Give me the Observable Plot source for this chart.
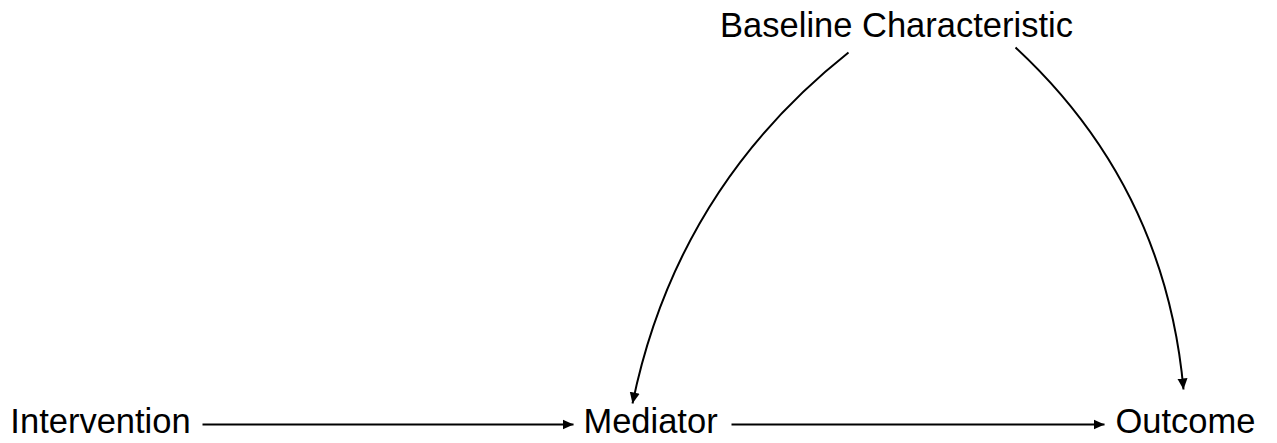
<!DOCTYPE html>
<html><head><meta charset="utf-8">
<script src="https://cdn.jsdelivr.net/npm/d3@7"></script>
<script src="https://cdn.jsdelivr.net/npm/@observablehq/plot@0.6"></script>
<style>html,body{margin:0;padding:0;background:#fff;overflow:hidden}</style>
</head><body><div id="chart"></div>
<script>
// Nodes of the causal diagram (layout units)
const nodeNames = ["Intervention", "Mediator", "Outcome", "Baseline Characteristic"];
const nodeX = [100, 650, 1185, 896];
const nodeY = [421, 421, 421, 25];

// Edges: anchor points of each arrow and its bend (degrees, + = clockwise)
const edgeFrom = ["Intervention", "Mediator", "Baseline Characteristic", "Baseline Characteristic"];
const edgeTo = ["Mediator", "Outcome", "Mediator", "Outcome"];
const edgeX1 = [202, 731, 848, 1015];
const edgeY1 = [424, 424, 52, 47];
const edgeX2 = [573, 1104, 632, 1183];
const edgeY2 = [424, 424, 403, 389];
const edgeBend = [0, 0, 20, -21];

const nodes = nodeNames.map((name, i) => ({name, x: nodeX[i], y: nodeY[i]}));
const edges = edgeFrom.map((from, i) => ({
  from, to: edgeTo[i], x1: edgeX1[i], y1: edgeY1[i], x2: edgeX2[i], y2: edgeY2[i], bend: edgeBend[i]
}));

function bendCurve(angle) {
  const t = Math.tan(angle * Math.PI / 180);
  return (context) => {
    let pts = [];
    return {
      areaStart() {}, areaEnd() {},
      lineStart() { pts = []; },
      point(x, y) { pts.push([+x, +y]); },
      lineEnd() {
        const [[x0, y0], [x1, y1]] = pts;
        const dx = x1 - x0, dy = y1 - y0;
        const mx = (x0 + x1) / 2, my = (y0 + y1) / 2;
        const k = t / 2;
        const cx = mx - dy * k, cy = my + dx * k;
        context.moveTo(x0, y0);
        if (angle === 0) context.lineTo(x1, y1);
        else context.quadraticCurveTo(cx, cy, x1, y1);
      }
    };
  };
}

function filledArrow(color, context) {
  const ns = "http://www.w3.org/2000/svg";
  const doc = (context && context.document) || document;
  const m = doc.createElementNS(ns, "marker");
  m.setAttribute("viewBox", "-11 -6 11 12");
  m.setAttribute("markerWidth", 11);
  m.setAttribute("markerHeight", 12);
  m.setAttribute("refX", 0);
  m.setAttribute("refY", 0);
  m.setAttribute("markerUnits", "userSpaceOnUse");
  m.setAttribute("orient", "auto");
  const p = doc.createElementNS(ns, "path");
  p.setAttribute("d", "M-11,-5L0,0L-11,5Z");
  p.setAttribute("fill", color);
  p.setAttribute("stroke", "none");
  m.appendChild(p);
  return m;
}

const bends = Array.from(new Set(edgeBend));
const linkMarks = bends.map((b) => Plot.link(edges.filter((d) => d.bend === b), {
  x1: "x1", y1: "y1", x2: "x2", y2: "y2",
  stroke: "black", strokeWidth: 2,
  curve: bendCurve(b),
  markerEnd: filledArrow
}));

const chart = Plot.plot({
  width: 1277,
  height: 443,
  margin: 0,
  style: {fontFamily: "'Liberation Sans', Arial, Helvetica, sans-serif", background: "#fff"},
  x: {domain: [0, 1277], range: [0, 1277], axis: null},
  y: {domain: [0, 443], range: [0, 443], axis: null},
  marks: [
    ...linkMarks,
    Plot.text(nodes, {
      x: "x", y: "y", text: "name",
      fontSize: 34.5, fill: "black", textAnchor: "middle", lineAnchor: "middle"
    })
  ]
});
document.getElementById("chart").appendChild(chart);
</script>
</body></html>
